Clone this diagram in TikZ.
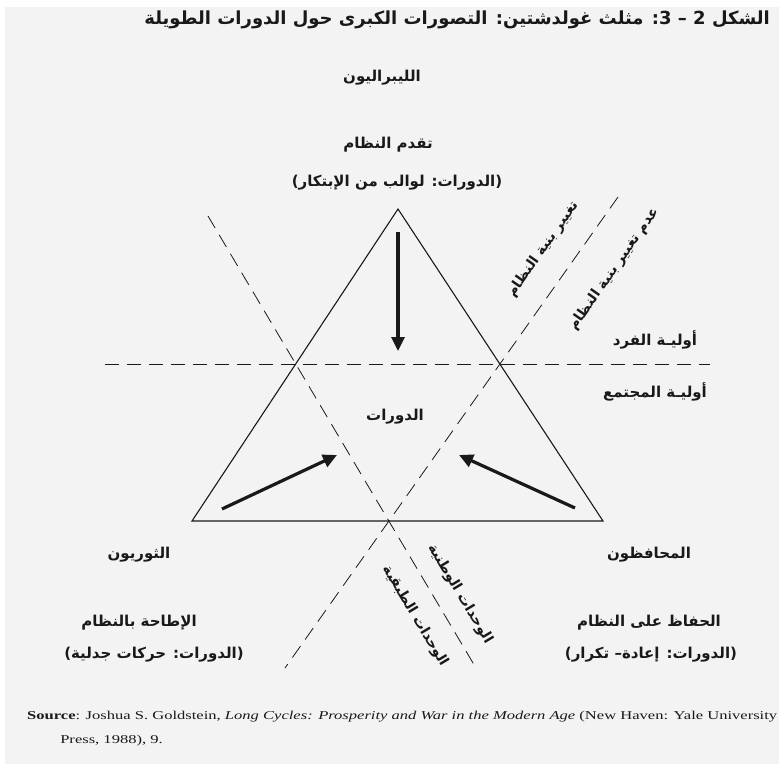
\documentclass[tikz,border=0pt]{standalone}
\usepackage{fontspec}
\usepackage{graphicx}
\usetikzlibrary{arrows.meta,calc}
\setmainfont{Liberation Serif}
\newfontfamily\arabicfont[Script=Arabic]{DejaVu Sans}
\TeXXeTstate=1
\definecolor{paper}{RGB}{243,243,243}
\definecolor{ink}{RGB}{25,25,25}
\tikzset{
  every node/.style={text=ink, inner sep=1pt},
  label text/.style={font=\arabicfont\bfseries\fontsize{15}{17}\selectfont},
  slant text/.style={font=\arabicfont\bfseries\fontsize{14}{16}\selectfont},
  title text/.style={font=\arabicfont\bfseries\fontsize{18}{20}\selectfont},
  side/.style={draw=ink, line width=1.1pt, line join=miter},
  split/.style={draw=ink, line width=0.8pt, dash pattern=on 14pt off 8pt},
  push/.style={draw=ink, line width=3.2pt, -{Triangle[length=14pt,width=13pt]}}
}

\begin{document}
\begin{tikzpicture}[x=1pt,y=-1pt]
  \useasboundingbox (0,0) rectangle (779,764);
  \fill[paper] (5,7) rectangle (779,764);

  % title and the three schools
  \node[title text, anchor=east] (title) at (771,20)
    {\beginR الشكل 2 – 3: مثلث غولدشتين: التصورات الكبرى حول الدورات الطويلة\endR};
  \node[label text] (liberals) at (382,78) {\beginR الليبراليون\endR};
  \node[label text] (progress) at (388,145) {\beginR تقدم النظام\endR};
  \node[label text] (spirals) at (397,183) {\beginR (الدورات: لوالب من الإبتكار)\endR};
  \node[label text] (radicals) at (139,555) {\beginR الثوريون\endR};
  \node[label text] (overthrow) at (139,623) {\beginR الإطاحة بالنظام\endR};
  \node[label text] (dialectic) at (154,655) {\beginR (الدورات: حركات جدلية)\endR};
  \node[label text] (conserv) at (649,555) {\beginR المحافظون\endR};
  \node[label text] (keep) at (649,623) {\beginR الحفاظ على النظام\endR};
  \node[label text] (repeat) at (651,655) {\beginR (الدورات: إعادة– تكرار)\endR};
  \node[label text] (cycles) at (395,417) {\beginR الدورات\endR};
  \node[label text] (person) at (655,340) {\beginR أوليـة الفرد\endR};
  \node[label text] (society) at (655,392) {\beginR أوليـة المجتمع\endR};

  % triangle
  \coordinate (apex) at (398,209);
  \coordinate (baseL) at (192,521);
  \coordinate (baseR) at (603,521);
  \draw[side] (apex) -- (baseL) -- (baseR) -- cycle;

  % dividing lines
  \coordinate (hL) at (105,364);
  \coordinate (hR) at (710,364);
  \coordinate (d1a) at (208,216);
  \coordinate (d1b) at (476,668);
  \coordinate (d2a) at (618,197);
  \coordinate (d2b) at (285,668);
  \draw[split] (hL) -- (hR);
  \draw[split] (d1a) -- (d1b);
  \draw[split] (d2a) -- (d2b);

  \node[slant text, rotate=55] (change) at (543,249) {\beginR تغيير بنية النظام\endR};
  \node[slant text, rotate=55] (nochange) at (614,269) {\beginR عدم تغيير بنية النظام\endR};
  \node[slant text, rotate=-59] (nations) at (460,594) {\beginR الوحدات الوطنية\endR};
  \node[slant text, rotate=-59] (classes) at (415,616) {\beginR الوحدات الطبقية\endR};

  % arrows into the centre
  \coordinate (downS) at (398,232);
  \coordinate (downE) at (398,351);
  \coordinate (leftS) at (222,509);
  \coordinate (leftE) at (337,455);
  \coordinate (rightS) at (575,508);
  \coordinate (rightE) at (459,455);
  \draw[push] (downS) -- (downE);
  \draw[push] (leftS) -- (leftE);
  \draw[push] (rightS) -- (rightE);

  % source line
  \node[anchor=north west, inner sep=0pt, font=\fontsize{12}{14.5}\selectfont] (source) at (27,709)
    {\resizebox{750pt}{\height}{\begin{tabular}{@{}l@{}}
      \textbf{Source}: Joshua S. Goldstein, \textit{Long Cycles: Prosperity and War in the Modern Age} (New Haven: Yale University\\[10pt]
      \hspace*{24pt}Press, 1988), 9.
    \end{tabular}}};
\end{tikzpicture}
\end{document}
